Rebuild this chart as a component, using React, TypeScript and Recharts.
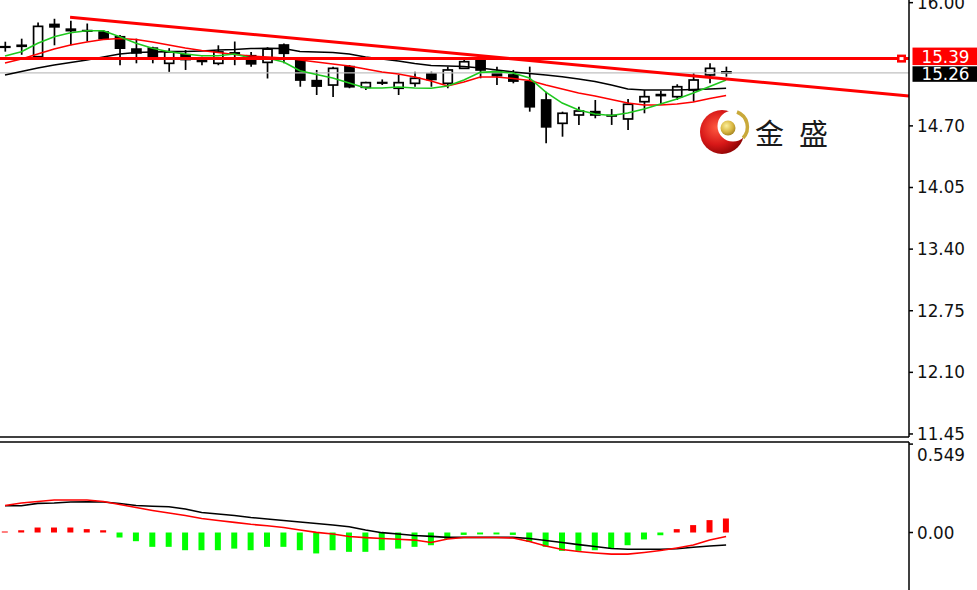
import React from 'react';
import { ComposedChart, Bar, Line, XAxis, YAxis, ReferenceLine, Cell } from 'recharts';

// candles, left to right
const OPEN = [15.53, 15.54, 15.43, 15.77, 15.72, 15.70, 15.69, 15.64, 15.51, 15.52, 15.36, 15.45, 15.41, 15.36, 15.46,
  15.44, 15.37, 15.553, 15.395, 15.177, 15.131, 15.325, 15.107, 15.153, 15.097, 15.149, 15.247, 15.149, 15.307, 15.388,
  15.272, 15.237, 15.166, 14.973, 14.727, 14.815, 14.85, 14.806, 14.773, 14.955, 15.03, 15.008, 15.078, 15.237, 15.27];
const HIGH = [15.588, 15.62, 15.79, 15.83, 15.81, 15.78, 15.71, 15.66, 15.62, 15.535, 15.52, 15.50, 15.43, 15.55, 15.59,
  15.48, 15.53, 15.57, 15.413, 15.29, 15.325, 15.342, 15.166, 15.19, 15.237, 15.272, 15.272, 15.325, 15.416, 15.413,
  15.325, 15.29, 15.325, 15.061, 14.85, 14.902, 14.973, 14.878, 14.984, 15.078, 15.068, 15.139, 15.255, 15.36, 15.325];
const LOW = [15.483, 15.45, 15.42, 15.55, 15.55, 15.59, 15.61, 15.34, 15.36, 15.36, 15.27, 15.29, 15.34, 15.34, 15.34,
  15.325, 15.20, 15.36, 15.113, 15.026, 15.005, 15.097, 15.078, 15.131, 15.026, 15.113, 15.113, 15.097, 15.30, 15.202,
  15.131, 15.149, 14.85, 14.516, 14.586, 14.71, 14.78, 14.71, 14.657, 14.833, 14.92, 14.973, 14.955, 15.149, 15.219];
const CLOSE = [15.535, 15.55, 15.75, 15.745, 15.705, 15.705, 15.62, 15.52, 15.47, 15.43, 15.48, 15.40, 15.38, 15.48, 15.47,
  15.355, 15.51, 15.466, 15.184, 15.12, 15.307, 15.113, 15.156, 15.157, 15.156, 15.202, 15.19, 15.29, 15.377, 15.29,
  15.23, 15.173, 14.902, 14.69, 14.833, 14.857, 14.815, 14.81, 14.928, 15.008, 15.02, 15.113, 15.184, 15.307, 15.26];

// moving averages on price
const MA_FAST = [15.437, 15.483, 15.571, 15.641, 15.683, 15.704, 15.704, 15.641, 15.571, 15.518, 15.483, 15.458, 15.44, 15.44, 15.458,
  15.416, 15.416, 15.374, 15.282, 15.242, 15.205, 15.152, 15.10, 15.10, 15.11, 15.10, 15.097, 15.121, 15.184, 15.265,
  15.272, 15.258, 15.205, 15.057, 14.941, 14.868, 14.825, 14.81, 14.836, 14.878, 14.931, 14.984, 15.047, 15.115, 15.184];
const MA_MID = [15.363, 15.406, 15.458, 15.511, 15.553, 15.585, 15.611, 15.622, 15.611, 15.585, 15.553, 15.522, 15.495, 15.474, 15.453,
  15.437, 15.427, 15.416, 15.395, 15.374, 15.353, 15.332, 15.30, 15.268, 15.247, 15.216, 15.173, 15.121, 15.163, 15.216,
  15.216, 15.20, 15.179, 15.131, 15.089, 15.047, 15.015, 14.978, 14.941, 14.92, 14.92, 14.931, 14.952, 14.989, 15.021];
const MA_SLOW = [15.237, 15.274, 15.311, 15.342, 15.369, 15.395, 15.427, 15.458, 15.474, 15.479, 15.483, 15.485, 15.49, 15.50, 15.506,
  15.516, 15.518, 15.516, 15.485, 15.479, 15.474, 15.458, 15.427, 15.406, 15.384, 15.358, 15.337, 15.332, 15.326, 15.311,
  15.29, 15.268, 15.253, 15.237, 15.219, 15.195, 15.168, 15.131, 15.089, 15.079, 15.079, 15.079, 15.084, 15.089, 15.097];

// lower window
const OSC_MAIN = [0.166, 0.166, 0.181, 0.183, 0.189, 0.191, 0.189, 0.18, 0.168, 0.163, 0.16, 0.146, 0.124, 0.115, 0.106,
  0.093, 0.084, 0.075, 0.065, 0.056, 0.047, 0.036, 0.016, -0.001, -0.009, -0.019, -0.024, -0.03, -0.03, -0.03,
  -0.03, -0.03, -0.037, -0.05, -0.062, -0.075, -0.087, -0.099, -0.104, -0.104, -0.104, -0.101, -0.092, -0.084, -0.078];
const OSC_SIGNAL = [0.168, 0.183, 0.193, 0.202, 0.202, 0.202, 0.193, 0.174, 0.155, 0.137, 0.121, 0.106, 0.087, 0.075, 0.063,
  0.051, 0.042, 0.031, 0.016, 0.001, -0.009, -0.025, -0.032, -0.037, -0.042, -0.047, -0.062, -0.04, -0.031, -0.031,
  -0.031, -0.034, -0.056, -0.084, -0.106, -0.118, -0.127, -0.134, -0.134, -0.124, -0.112, -0.096, -0.078, -0.047, -0.025];
const OSC_HIST = [0.006, 0.014, 0.031, 0.031, 0.031, 0.021, 0.014, -0.031, -0.054, -0.089, -0.089, -0.11, -0.11, -0.11, -0.10,
  -0.11, -0.089, -0.089, -0.11, -0.13, -0.11, -0.12, -0.12, -0.11, -0.10, -0.089, -0.079, -0.04, -0.015, -0.012,
  -0.012, -0.015, -0.058, -0.089, -0.114, -0.114, -0.11, -0.10, -0.079, -0.043, -0.017, 0.021, 0.046, 0.077, 0.087];

const PRICE_TICKS = [11.45, 12.10, 12.75, 13.40, 14.05, 14.70, 16.00];
const OSC_TICKS = [0, 0.549];
const LEVEL_PRICE = 15.41;
const LEVEL_TEXT = '15.39';
const BID_PRICE = 15.26;
const TREND = [{ x: 3.97, y: 15.845 }, { x: 55.16, y: 15.015 }];

const X_DOMAIN = [-0.305, 55.16];
const FONT = 16.8;

const rows = OPEN.map((o, i) => ({
  i,
  open: o, high: HIGH[i], low: LOW[i], close: CLOSE[i],
  range: [LOW[i], HIGH[i]],
  fast: MA_FAST[i], mid: MA_MID[i], slow: MA_SLOW[i],
  main: OSC_MAIN[i], signal: OSC_SIGNAL[i], hist: OSC_HIST[i],
}));

const Candle = (props: any) => {
  const { x, y, width, height, payload } = props;
  if (x == null || !payload) return null;
  const top = Math.min(y, y + height);
  const h = Math.abs(height);
  const span = payload.high - payload.low || 1;
  const py = (p: number) => top + ((payload.high - p) / span) * h;
  const cx = x + width / 2;
  const bw = 9;
  const yo = py(payload.open);
  const yc = py(payload.close);
  const bTop = Math.min(yo, yc);
  const bH = Math.max(Math.abs(yo - yc), 0.5);
  const up = payload.close >= payload.open;
  return (
    <g>
      <line x1={cx} x2={cx} y1={top} y2={top + h} stroke="#000" strokeWidth={1.7} />
      <rect x={cx - bw / 2} y={bTop} width={bw} height={bH} fill={up ? '#fff' : '#000'} stroke="#000" strokeWidth={1.7} />
    </g>
  );
};

const LevelTag = ({ viewBox }: any) => {
  if (!viewBox) return null;
  const right = viewBox.x + viewBox.width;
  const y = viewBox.y;
  return (
    <g>
      <rect x={right - 12} y={y - 4} width={9} height={8} fill="#ff0000" />
      <rect x={right - 9.5} y={y - 1.5} width={4} height={3} fill="#fff" />
      <rect x={right + 3.5} y={y - 11} width={65} height={17.5} fill="#ff0000" />
      <text x={right + 12.5} y={y - 2} dy="0.36em" fill="#fff" fontSize={FONT}>{LEVEL_TEXT}</text>
    </g>
  );
};

const BidTag = ({ viewBox }: any) => {
  if (!viewBox) return null;
  const right = viewBox.x + viewBox.width;
  const y = viewBox.y;
  return (
    <g>
      <rect x={right + 3.5} y={y - 6.5} width={65} height={15.5} fill="#000" />
      <text x={right + 12.5} y={y + 1} dy="0.36em" fill="#fff" fontSize={FONT}>{BID_PRICE.toFixed(2)}</text>
    </g>
  );
};

const OscTick = ({ x, y, payload }: any) => (
  <text x={x} y={payload.value > 0 ? y + 11 : y} dy="0.36em" fontSize={FONT} fill="#111">
    {payload.value === 0 ? '0.00' : payload.value.toFixed(3)}
  </text>
);

const Logo = () => (
  <svg width={977} height={590} style={{ position: 'absolute', left: 0, top: 0, pointerEvents: 'none' }}>
    <defs>
      <radialGradient id="logoRed" cx="38%" cy="40%" r="70%">
        <stop offset="0" stopColor="#ff5a40" />
        <stop offset="0.55" stopColor="#d81818" />
        <stop offset="1" stopColor="#800000" />
      </radialGradient>
      <radialGradient id="logoGold" cx="40%" cy="35%" r="70%">
        <stop offset="0" stopColor="#fbee9a" />
        <stop offset="0.6" stopColor="#d8b640" />
        <stop offset="1" stopColor="#a08020" />
      </radialGradient>
    </defs>
    <circle cx={722} cy={132} r={22} fill="url(#logoRed)" />
    <circle cx={733} cy={126} r={15.5} fill="#fff" />
    <path d="M 737 112 A 16 16 0 0 1 743 138" fill="none" stroke="#c9a93a" strokeWidth={3.5} />
    <circle cx={728} cy={128} r={7.5} fill="url(#logoGold)" />
    <text x={755} y={145} fontSize={29} fill="#1a1a1a" fontFamily="'Noto Sans CJK SC'">金</text>
    <text x={799} y={145} fontSize={29} fill="#1a1a1a" fontFamily="'Noto Sans CJK SC'">盛</text>
  </svg>
);

export default function App() {
  return (
    <div style={{ position: 'absolute', left: 0, top: 0, width: 977, height: 590, background: '#fff', fontFamily: "'DejaVu Sans', sans-serif", overflow: 'hidden' }}>
      <div style={{ position: 'absolute', left: 0, top: 0 }}>
        <ComposedChart width={977} height={446} data={rows} margin={{ top: 0, right: 0, bottom: 6, left: 0 }}>
          <XAxis dataKey="i" type="number" domain={X_DOMAIN} allowDataOverflow tick={false} tickLine={false}
            axisLine={{ stroke: '#000', strokeWidth: 1.5 }} height={3} />
          <YAxis orientation="right" width={68} domain={[11.418, 16.028]} allowDataOverflow ticks={PRICE_TICKS}
            interval={0} tickFormatter={(v: number) => v.toFixed(2)} tickSize={4} tickMargin={4}
            axisLine={{ stroke: '#000', strokeWidth: 1.5 }} tickLine={{ stroke: '#000', strokeWidth: 1.5 }}
            tick={{ fill: '#111', fontSize: FONT }} />
          <ReferenceLine y={BID_PRICE} stroke="#c0c0c0" strokeWidth={1.2} label={<BidTag />} />
          <Bar dataKey="range" shape={<Candle />} activeBar={false} barSize={9} isAnimationActive={false} />
          <Line dataKey="slow" type="linear" stroke="#000" strokeWidth={1.6} dot={false} activeDot={false} isAnimationActive={false} />
          <Line dataKey="mid" type="linear" stroke="#ff0000" strokeWidth={1.6} dot={false} activeDot={false} isAnimationActive={false} />
          <Line dataKey="fast" type="linear" stroke="#1ec81e" strokeWidth={1.6} dot={false} activeDot={false} isAnimationActive={false} />
          <ReferenceLine y={LEVEL_PRICE} stroke="#ff0000" strokeWidth={3} label={<LevelTag />} />
          <ReferenceLine segment={TREND} stroke="#ff0000" strokeWidth={3} />
        </ComposedChart>
      </div>
      <div style={{ position: 'absolute', left: 0, top: 441 }}>
        <ComposedChart width={977} height={149} data={rows} margin={{ top: 0, right: 0, bottom: 0, left: 0 }}>
          <XAxis orientation="top" dataKey="i" type="number" domain={X_DOMAIN} allowDataOverflow tick={false} tickLine={false}
            axisLine={{ stroke: '#000', strokeWidth: 1.5 }} height={1} />
          <YAxis orientation="right" width={68} domain={[-0.357, 0.562]} allowDataOverflow ticks={OSC_TICKS} interval={0}
            tickSize={4} tickMargin={4} axisLine={{ stroke: '#000', strokeWidth: 1.5 }}
            tickLine={{ stroke: '#000', strokeWidth: 1.5 }} tick={<OscTick />} />
          <Bar dataKey="hist" barSize={6} activeBar={false} isAnimationActive={false}>
            {rows.map((r) => (
              <Cell key={r.i} fill={r.hist >= 0 ? '#ff0000' : '#00ff00'} />
            ))}
          </Bar>
          <Line dataKey="main" type="linear" stroke="#000" strokeWidth={1.6} dot={false} activeDot={false} isAnimationActive={false} />
          <Line dataKey="signal" type="linear" stroke="#ff0000" strokeWidth={1.6} dot={false} activeDot={false} isAnimationActive={false} />
        </ComposedChart>
      </div>
      <Logo />
    </div>
  );
}
